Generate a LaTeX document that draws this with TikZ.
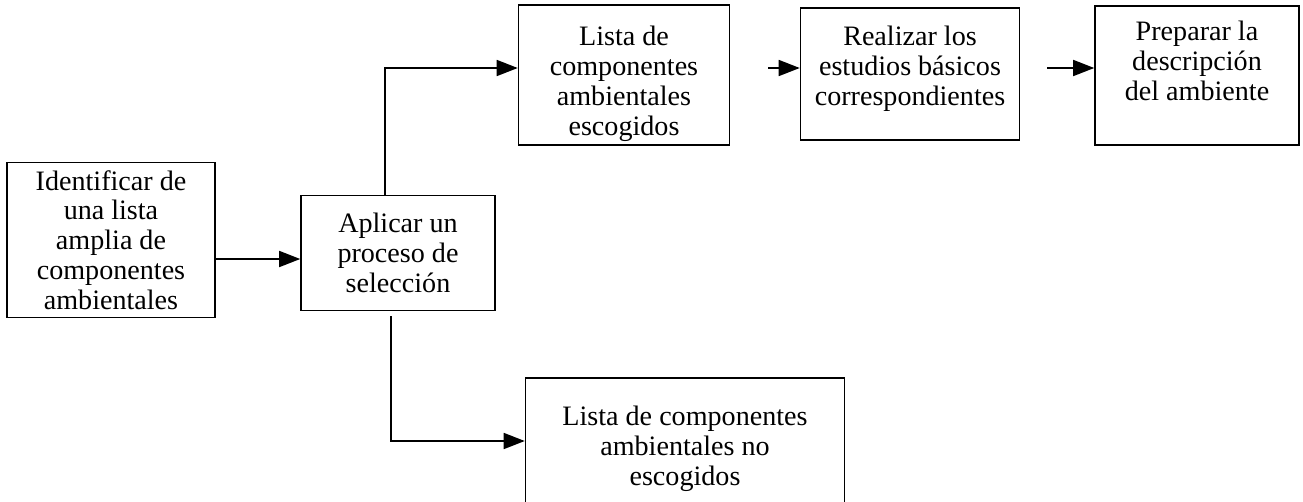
\documentclass[tikz,border=0pt]{standalone}
\usepackage{fontspec}
\setmainfont{Liberation Serif}
\usetikzlibrary{arrows.meta}

\begin{document}
\begin{tikzpicture}[
		x=0.02cm, y=-0.02cm,
		every node/.style={rectangle, draw, line width=0.9pt, align=center, inner sep=0pt,
			font=\fontsize{16}{17}\selectfont},
		flow/.style={line width=0.9pt, -{Triangle[length=4.2mm, width=3.2mm]}}
	]
  \useasboundingbox (0,0) rectangle (1303,501);
  \node (ident) [minimum width=4.16cm, minimum height=3.1cm] at (111,240)
    {Identificar de\\una lista\\amplia de\\componentes\\ambientales};
  \node (aplic) [minimum width=3.88cm, minimum height=2.3cm] at (398,253)
    {Aplicar un\\proceso de\\selección};
  \node (escog) [minimum width=4.22cm, minimum height=2.8cm] at (624,75)
    {\mbox{}\\[0.15cm]Lista de\\componentes\\ambientales\\escogidos};
  \node (estud) [minimum width=4.38cm, minimum height=2.64cm] at (910,74)
    {Realizar los\\estudios básicos\\correspondientes\\[-0.28cm]\mbox{}};
  \node (descr) [minimum width=4.08cm, minimum height=2.78cm] at (1197,75.5)
    {Preparar la\\descripción\\del ambiente\\\mbox{}};
  \node (noesc) [minimum width=6.38cm, minimum height=2.84cm] at (685,449)
    {Lista de componentes\\ambientales no\\escogidos};
  \coordinate (up) at (385,68);
  \coordinate (dn) at (391,441);
  \coordinate (s34) at (768,68);
  \coordinate (s45) at (1047,68);
  \draw[flow] (ident.east |- 0,259) -- (aplic.west |- 0,259);
  \draw[flow] (aplic.north -| up) -- (up) -- (escog.west |- up);
  \draw[flow, shorten <=1mm] (aplic.south -| dn) -- (dn) -- (noesc.west |- dn);
  \draw[flow] (s34) -- (estud.west |- s34);
  \draw[flow] (s45) -- (descr.west |- s45);
\end{tikzpicture}
\end{document}
